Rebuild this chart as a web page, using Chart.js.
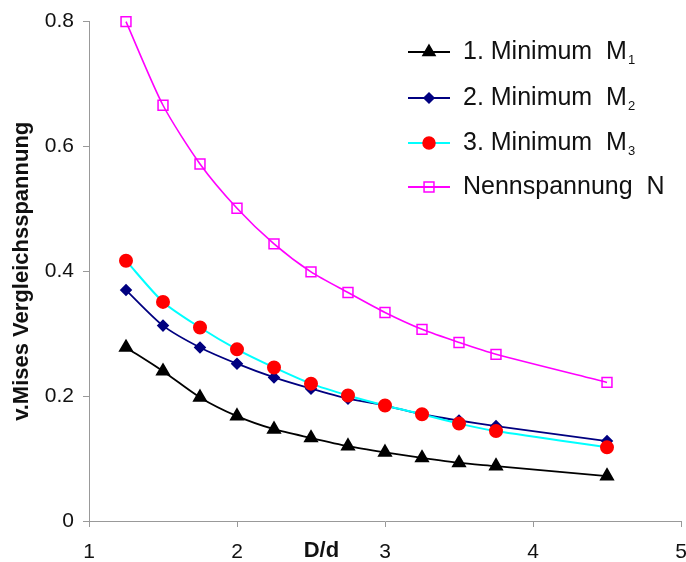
<!DOCTYPE html>
<html>
<head>
<meta charset="utf-8">
<script src="https://cdn.jsdelivr.net/npm/chart.js@4/dist/chart.umd.min.js"></script>
<style>
  body { margin: 0; background: #fff; }
</style>
</head>
<body>
<canvas id="chart-stress" width="686" height="562"></canvas>
<script>
const ratioD = [1.25, 1.5, 1.75, 2, 2.25, 2.5, 2.75, 3, 3.25, 3.5, 3.75, 4.5];
const min1 = [0.278, 0.240, 0.198, 0.168, 0.147, 0.133, 0.120, 0.110, 0.101, 0.093, 0.088, 0.072];
const min2 = [0.370, 0.313, 0.278, 0.252, 0.230, 0.212, 0.196, 0.185, 0.171, 0.161, 0.152, 0.128];
const min3 = [0.417, 0.351, 0.310, 0.275, 0.246, 0.220, 0.201, 0.185, 0.171, 0.156, 0.144, 0.118];
const nenn = [0.800, 0.666, 0.572, 0.501, 0.444, 0.399, 0.366, 0.334, 0.307, 0.286, 0.267, 0.222];

const seriesNames = ['1. Minimum  M', '2. Minimum  M', '3. Minimum  M', 'Nennspannung  N'];
const seriesSubs = ['1', '2', '3', ''];
const xTitle = 'D/d';
const yTitle = 'v.Mises Vergleichsspannung';

const FONT = '"Liberation Sans", Arial, sans-serif';
const AXIS_GRAY = '#999999';

function pts(ys) {
    return ys.map((y, i) => ({ x: ratioD[i], y: y }));
}

function drawMarker(ctx, style, x, y, r, fill, stroke) {
    ctx.save();
    ctx.beginPath();
    if (style === 'triangle') {
        ctx.moveTo(x, y - r);
        ctx.lineTo(x + r * 0.866, y + r * 0.5);
        ctx.lineTo(x - r * 0.866, y + r * 0.5);
        ctx.closePath();
    } else if (style === 'rectRot') {
        ctx.moveTo(x, y - r);
        ctx.lineTo(x + r, y);
        ctx.lineTo(x, y + r);
        ctx.lineTo(x - r, y);
        ctx.closePath();
    } else if (style === 'rect') {
        const s = r * Math.SQRT1_2;
        ctx.rect(x - s, y - s, 2 * s, 2 * s);
    } else {
        ctx.arc(x, y, r, 0, Math.PI * 2);
    }
    if (fill && fill !== 'transparent') {
        ctx.fillStyle = fill;
        ctx.fill();
    }
    ctx.lineWidth = 1.5;
    ctx.strokeStyle = stroke;
    ctx.stroke();
    ctx.restore();
}

// legend inside the plot, with subscripts
const legendInside = {
    id: 'legendInside',
    afterDraw(chart) {
        const ctx = chart.ctx;
        const x0 = 408, x1 = 450, tx = 463;
        const rowY = [52, 98, 143, 187];
        chart.data.datasets.forEach((ds, i) => {
            const y = rowY[i];
            ctx.save();
            ctx.strokeStyle = ds.borderColor;
            ctx.lineWidth = 2;
            ctx.beginPath();
            ctx.moveTo(x0, y);
            ctx.lineTo(x1, y);
            ctx.stroke();
            drawMarker(ctx, ds.pointStyle, (x0 + x1) / 2, y, ds.pointRadius,
                ds.pointBackgroundColor, ds.pointBorderColor);
            ctx.fillStyle = '#111';
            ctx.textBaseline = 'middle';
            ctx.textAlign = 'left';
            ctx.font = '25px ' + FONT;
            ctx.fillText(seriesNames[i], tx, y);
            const w = ctx.measureText(seriesNames[i]).width;
            if (seriesSubs[i]) {
                ctx.font = '13px ' + FONT;
                ctx.fillText(seriesSubs[i], tx + w + 1, y + 8);
            }
            ctx.restore();
        });
    }
};

// x axis title sits on the tick label row between 2 and 3
const xTitlePlugin = {
    id: 'xTitlePlugin',
    afterDraw(chart) {
        const ctx = chart.ctx;
        const xs = chart.scales.x;
        ctx.save();
        ctx.font = 'bold 22px ' + FONT;
        ctx.fillStyle = '#111';
        ctx.textAlign = 'center';
        ctx.textBaseline = 'middle';
        ctx.fillText(xTitle, xs.getPixelForValue(2.57), 551);
        ctx.restore();
    }
};

new Chart(document.getElementById('chart-stress'), {
    type: 'scatter',
    data: {
        datasets: [{
            label: seriesNames[0] + seriesSubs[0],
            data: pts(min1),
            showLine: true,
            clip: false,
            borderColor: '#000000',
            borderWidth: 1.8,
            pointStyle: 'triangle',
            pointRadius: 7,
            pointBackgroundColor: '#000000',
            pointBorderColor: '#000000',
            tension: 0.25,
            order: 4,
        }, {
            label: seriesNames[1] + seriesSubs[1],
            data: pts(min2),
            showLine: true,
            clip: false,
            borderColor: '#000080',
            borderWidth: 1.8,
            pointStyle: 'rectRot',
            pointRadius: 5,
            pointBackgroundColor: '#000080',
            pointBorderColor: '#000080',
            tension: 0.25,
            order: 3,
        }, {
            label: seriesNames[2] + seriesSubs[2],
            data: pts(min3),
            showLine: true,
            clip: false,
            borderColor: '#00ffff',
            borderWidth: 2,
            pointStyle: 'circle',
            pointRadius: 6,
            pointBackgroundColor: '#ff0000',
            pointBorderColor: '#ff0000',
            tension: 0.25,
            order: 2,
        }, {
            label: seriesNames[3],
            data: pts(nenn),
            showLine: true,
            clip: false,
            borderColor: '#ff00ff',
            borderWidth: 1.6,
            pointStyle: 'rect',
            pointRadius: 7,
            pointBackgroundColor: 'transparent',
            pointBorderColor: '#ff00ff',
            pointBorderWidth: 1.5,
            tension: 0.25,
            order: 1,
        }]
    },
    options: {
        responsive: false,
        animation: false,
        layout: {
            autoPadding: false,
            padding: { top: 20, right: 5, left: 0, bottom: 0 }
        },
        plugins: {
            legend: { display: false },
            tooltip: { enabled: false },
        },
        scales: {
            x: {
                type: 'linear',
                min: 1,
                max: 5,
                afterFit(scale) {
                    scale.height = 41;
                    scale.paddingLeft = 0;
                    scale.paddingRight = 0;
                },
                ticks: {
                    stepSize: 1,
                    padding: 13,
                    color: '#111',
                    font: { family: FONT, size: 21 },
                },
                grid: {
                    drawOnChartArea: false,
                    drawTicks: true,
                    tickLength: 6,
                    color: AXIS_GRAY,
                },
                border: { color: AXIS_GRAY, width: 1 },
            },
            y: {
                min: 0,
                max: 0.8,
                afterFit(scale) { scale.width = 89; },
                ticks: {
                    stepSize: 0.2,
                    padding: 9,
                    color: '#111',
                    font: { family: FONT, size: 21 },
                },
                grid: {
                    drawOnChartArea: false,
                    drawTicks: true,
                    tickLength: 6,
                    color: AXIS_GRAY,
                },
                border: { color: AXIS_GRAY, width: 1 },
                title: {
                    display: true,
                    text: yTitle,
                    color: '#111',
                    padding: { top: 9, bottom: 0 },
                    font: { family: FONT, size: 22, weight: 'bold' },
                },
            }
        }
    },
    plugins: [legendInside, xTitlePlugin]
});
</script>
</body>
</html>
